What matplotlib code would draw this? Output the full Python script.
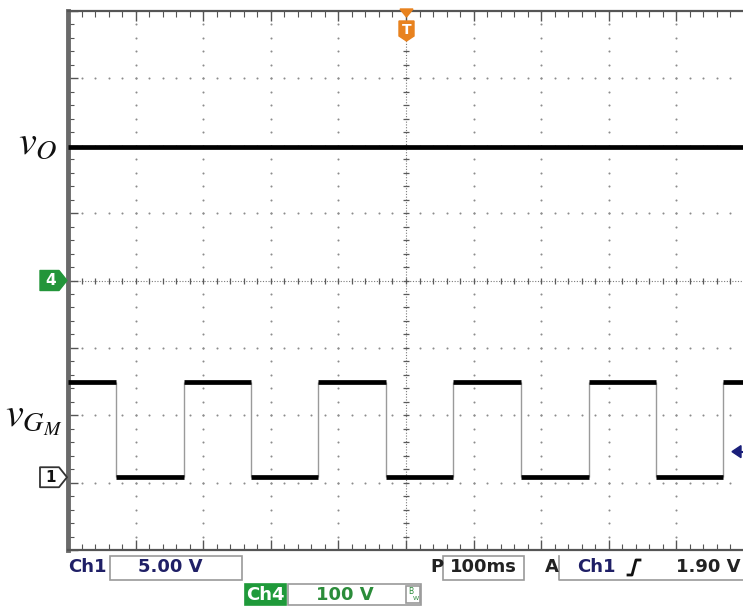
import numpy as np
import matplotlib
matplotlib.use('Agg')
import matplotlib.pyplot as plt
from matplotlib.patches import Polygon, Rectangle

plt.rcParams['mathtext.fontset'] = 'stix'

# ---- scope settings / readings ----
ch1_volts_per_div = 5.0        # gate signal
ch4_volts_per_div = 100.0      # output voltage
ms_per_div = 100.0
ch1_ground_div = -2.92         # ch1 reference marker position
ch4_ground_div = 0.0           # ch4 reference marker position
trig_level_v = 1.90

# output voltage trace (ch4), V
vo_level = 198.0

# gate trace (ch1): switching instants in ms (0 = trigger), and the two levels in V
gate_edges_ms = [-429, -329, -229, -130, -30, 70, 170, 270, 370, 469]
gate_high_v = 7.1
gate_low_v = 0.0

# readout texts
ch1_scale_txt = '5.00 V'
ch4_scale_txt = '100 V'
time_scale_txt = '100ms'
trig_txt = '1.90 V'

# ---- layout in pixels ----
W, H = 743, 607
L_PX, R_PX, T_PX, B_PX = 68, 744, 11, 550
PX_DIV = (B_PX - T_PX) / 8.0


def fxy(xp, yp):
    return (xp / W, 1 - yp / H)


def ypx(div):
    return T_PX + (4 - div) * PX_DIV


def ch1_div(v):
    return ch1_ground_div + v / ch1_volts_per_div


def ch4_div(v):
    return ch4_ground_div + v / ch4_volts_per_div


fig = plt.figure(figsize=(W / 100, H / 100), dpi=100)
fig.patch.set_facecolor('white')
ax = fig.add_axes([L_PX / W, 1 - B_PX / H, (R_PX - L_PX) / W, (B_PX - T_PX) / H])
ax.set_xlim(-5 * ms_per_div, 5 * ms_per_div)
ax.set_ylim(-4, 4)

# graticule: dotted lines, one dot every 0.2 div
xs_fine = np.arange(-500, 500.1, 20)
ys_fine = np.arange(-4, 4.01, 0.2)
for xm in np.arange(-400, 401, 100):
    if xm == 0:
        continue
    ax.scatter(np.full_like(ys_fine, xm), ys_fine, s=2.2, color='#8c8c8c', lw=0, zorder=1)
for ym in range(-3, 4):
    if ym == 0:
        continue
    ax.scatter(xs_fine, np.full_like(xs_fine, ym), s=2.2, color='#8c8c8c', lw=0, zorder=1)

# centre crosshair with small ticks
ax.plot([-500, 500], [0, 0], ls=(0, (1, 1.5)), color='#7a7a7a', lw=0.8, zorder=1)
ax.plot([0, 0], [-4, 4], ls=(0, (1, 1.5)), color='#7a7a7a', lw=0.8, zorder=1)
ax.plot(xs_fine, np.zeros_like(xs_fine), ls='none', marker='|', ms=5, mew=0.9, color='#5a5a5a', zorder=1)
ax.plot(np.zeros_like(ys_fine), ys_fine, ls='none', marker='_', ms=5, mew=0.9, color='#5a5a5a', zorder=1)

# frame with tick marks
ax.set_xticks(np.arange(-500, 501, 100))
ax.set_xticks(xs_fine, minor=True)
ax.set_yticks(np.arange(-4, 5, 1))
ax.set_yticks(ys_fine, minor=True)
ax.tick_params(which='both', direction='in', top=True, bottom=True, left=True, right=False,
               labelbottom=False, labelleft=False, color='#555555')
ax.tick_params(which='major', length=7, width=1)
ax.tick_params(which='minor', length=4, width=0.8)
for side in ['top', 'bottom']:
    ax.spines[side].set_color('#555555')
    ax.spines[side].set_linewidth(1.6)
ax.spines['left'].set_color('#6a6a6a')
ax.spines['left'].set_linewidth(3.5)
ax.spines['right'].set_visible(False)

# output voltage
ax.hlines(ch4_div(vo_level), -500, 500, color='black', lw=3.4, zorder=3)

# gate pulses
seg_t = [-500] + gate_edges_ms + [500]
lvl = gate_high_v
for t0, t1 in zip(seg_t[:-1], seg_t[1:]):
    ax.hlines(ch1_div(lvl), t0, t1, color='black', lw=3.4, zorder=3)
    lvl = gate_low_v if lvl == gate_high_v else gate_high_v
ax.vlines(gate_edges_ms, ch1_div(gate_low_v), ch1_div(gate_high_v), color='#9a9a9a', lw=1.0, zorder=2)

# trigger level arrow (right edge)
yt = ypx(ch1_div(trig_level_v))
fig.add_artist(Polygon([fxy(732, yt), fxy(741, yt - 6), fxy(741, yt + 6)], closed=True,
                       transform=fig.transFigure, color='#1a1f7a'))
fig.add_artist(plt.Line2D([739 / W, 1.0], [1 - yt / H] * 2, transform=fig.transFigure,
                          color='#1a1f7a', lw=1.5))

# trigger position marker (top)
fig.add_artist(Polygon([fxy(400, 9), fxy(413, 9), fxy(406.5, 17)], closed=True,
                       transform=fig.transFigure, color='#e8821e', zorder=5))
fig.add_artist(Polygon([fxy(399, 21), fxy(414, 21), fxy(414, 36), fxy(406.5, 41), fxy(399, 36)],
                       closed=True, transform=fig.transFigure, color='#e8821e', zorder=5))
fig.text(406.5 / W, 1 - 29.5 / H, 'T', color='white', fontsize=10, fontweight='bold',
         ha='center', va='center', zorder=6)

# channel reference markers (left)
y4 = ypx(ch4_ground_div)
fig.add_artist(Polygon([fxy(40, y4 - 10), fxy(59, y4 - 10), fxy(67, y4), fxy(59, y4 + 10), fxy(40, y4 + 10)],
                       closed=True, transform=fig.transFigure, facecolor='#23953a', edgecolor='#23953a',
                       lw=1, joinstyle='round'))
fig.text(51 / W, 1 - y4 / H, '4', color='white', fontsize=11, fontweight='bold', ha='center', va='center',
         zorder=6)

y1 = ypx(ch1_ground_div)
fig.add_artist(Polygon([fxy(40, y1 - 10), fxy(59, y1 - 10), fxy(67, y1), fxy(59, y1 + 10), fxy(40, y1 + 10)],
                       closed=True, transform=fig.transFigure, facecolor='white', edgecolor='#333333',
                       lw=1.3, joinstyle='round'))
fig.text(51 / W, 1 - y1 / H, '1', color='#111111', fontsize=11, fontweight='bold', ha='center', va='center',
         zorder=6)

# signal names
fig.text(58 / W, 1 - 143 / H, r'$v_O$', fontsize=29, ha='right', va='center', color='#111111')
fig.text(62 / W, 1 - 418 / H, r'$v_{G_M}$', fontsize=29, ha='right', va='center', color='#111111')

# ---- readout line ----
navy = '#1f1f66'
green = '#2b8c3a'


def box(x0, y0, x1, y1, **kw):
    fig.add_artist(Rectangle(fxy(x0, y1), (x1 - x0) / W, (y1 - y0) / H, transform=fig.transFigure,
                             fill=kw.get('fill', False), facecolor=kw.get('fc', 'none'),
                             edgecolor=kw.get('ec', '#9a9a9a'), lw=1.2))


fs = 13
fig.text(68 / W, 1 - 567 / H, 'Ch1', color=navy, fontsize=fs, fontweight='bold', va='center')
box(110, 556, 242, 580)
fig.text(170 / W, 1 - 567 / H, ch1_scale_txt, color=navy, fontsize=fs, fontweight='bold',
         ha='center', va='center')

box(245, 584, 286, 605, fill=True, fc='#1f9a3a', ec='#1f9a3a')
fig.text(265.5 / W, 1 - 594.5 / H, 'Ch4', color='white', fontsize=fs, fontweight='bold',
         ha='center', va='center', zorder=6)
box(288, 584, 421, 605)
fig.text(345 / W, 1 - 594.5 / H, ch4_scale_txt, color=green, fontsize=fs, fontweight='bold',
         ha='center', va='center')
box(406, 586, 420, 603)
fig.text(411 / W, 1 - 592 / H, 'B', color=green, fontsize=5.5, ha='center', va='center')
fig.text(416 / W, 1 - 598 / H, 'W', color=green, fontsize=4.5, ha='center', va='center')

fig.text(430 / W, 1 - 567 / H, 'P', color='#222222', fontsize=fs, fontweight='bold', va='center')
box(443, 556, 524, 580)
fig.text(483.5 / W, 1 - 567 / H, time_scale_txt, color='#222222', fontsize=fs, fontweight='bold',
         ha='center', va='center')

fig.text(545 / W, 1 - 567 / H, 'A', color='#222222', fontsize=fs, fontweight='bold', va='center')
fig.add_artist(plt.Line2D([559 / W, 559 / W, 1.0], [1 - 556 / H, 1 - 580 / H, 1 - 580 / H],
                          transform=fig.transFigure, color='#9a9a9a', lw=1.2))
fig.text(577 / W, 1 - 567 / H, 'Ch1', color=navy, fontsize=fs, fontweight='bold', va='center')
# rising-edge slope symbol
sx = np.array([628, 632, 636, 640])
sy = np.array([575, 575, 560, 560])
fig.add_artist(plt.Line2D(sx / W, 1 - sy / H, transform=fig.transFigure, color='#111111', lw=2))
fig.text(740 / W, 1 - 567 / H, trig_txt, color='#222222', fontsize=fs, fontweight='bold',
         ha='right', va='center')

fig.savefig('out.png', dpi=100, facecolor='white')
